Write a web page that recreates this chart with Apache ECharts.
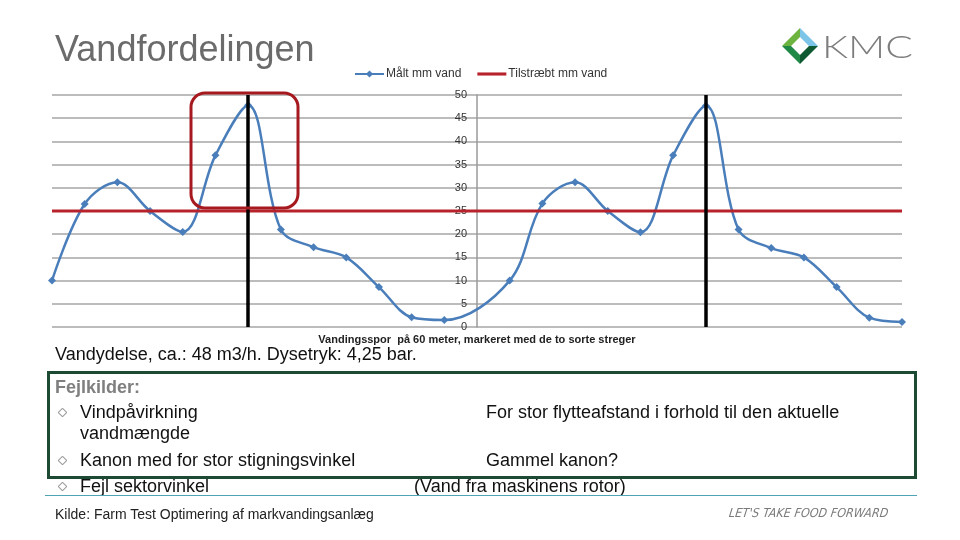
<!DOCTYPE html>
<html>
<head>
<meta charset="utf-8">
<script src="https://cdn.jsdelivr.net/npm/echarts@6/dist/echarts.min.js"></script>
<style>
  html, body { margin: 0; padding: 0; background: #fff; }
  #wrap { position: relative; width: 960px; height: 540px; overflow: hidden; font-family: "Liberation Sans", Arial, sans-serif; }
  #chart { position: absolute; left: 0; top: 0; width: 960px; height: 540px; }
  .t { position: absolute; white-space: nowrap; line-height: 1; }
  .bul { position: absolute; width: 5px; height: 5px; border: 1.5px solid #9a9a9a; transform: rotate(45deg); border-radius: 1px; }
</style>
</head>
<body>
<div id="wrap">
  <div id="chart"></div>
  <div class="t" style="left:55px; top:31px; font-size:36px; color:#6b6b6b;">Vandfordelingen</div>
  <div class="t" style="left:55px; top:345px; font-size:18px; color:#111;">Vandydelse, ca.: 48 m3/h. Dysetryk: 4,25 bar.</div>
  <div style="position:absolute; left:47px; top:371px; width:864px; height:102px; border:3.5px solid #1d4a33;"></div>
  <div class="t" style="left:55px; top:378px; font-size:18px; font-weight:bold; color:#7f7f7f;">Fejlkilder:</div>
  <div class="bul" style="left:59px; top:409px;"></div>
  <div class="t" style="left:80px; top:403px; font-size:18px; color:#111;">Vindpåvirkning</div>
  <div class="t" style="left:80px; top:424px; font-size:18px; color:#111;">vandmængde</div>
  <div class="bul" style="left:59px; top:457px;"></div>
  <div class="t" style="left:80px; top:451px; font-size:18px; color:#111;">Kanon med for stor stigningsvinkel</div>
  <div class="bul" style="left:59px; top:483px;"></div>
  <div class="t" style="left:80px; top:477px; font-size:18px; color:#111;">Fejl sektorvinkel</div>
  <div class="t" style="left:486px; top:403px; font-size:18px; color:#111;">For stor flytteafstand i forhold til den aktuelle</div>
  <div class="t" style="left:486px; top:451px; font-size:18px; color:#111;">Gammel kanon?</div>
  <div class="t" style="left:414px; top:477px; font-size:18px; color:#111;">(Vand fra maskinens rotor)</div>
  <div style="position:absolute; left:45px; top:495px; width:872px; height:0; border-top:1.5px solid #4fa3b3;"></div>
  <div class="t" style="left:55px; top:507px; font-size:14px; color:#222;">Kilde: Farm Test Optimering af markvandingsanlæg</div>
  <div class="t" style="left:729px; top:507px; font-size:12.3px; color:#7a7a7a; font-style:italic; font-family:'DejaVu Sans Condensed','DejaVu Sans',sans-serif; letter-spacing:0.1px; transform:skewX(-8deg);">LET'S TAKE FOOD FORWARD</div>
  <svg style="position:absolute; left:780px; top:26px;" width="40" height="40" viewBox="0 0 40 40">
    <polygon points="20,2 20,11 11,20 2,20" fill="#6cb33f"/>
    <polygon points="20,2 38,20 29,20 20,11" fill="#7cc4e8"/>
    <polygon points="2,20 11,20 20,29 20,38" fill="#1e8a45"/>
    <polygon points="38,20 20,38 20,29 29,20" fill="#0f5a33"/>
  </svg>
  <div class="t" style="left:822px; top:30px; font-size:32px; color:#7d7d7d; font-family:'Lato','Liberation Sans',sans-serif; font-weight:300; transform:scaleX(1.28); transform-origin:left top;">KMC</div>
</div>
<script>
// x positions along the watering track (one step per measurement)
const positions = [-13,-12,-11,-10,-9,-8,-7,-6,-5,-4,-3,-2,-1,1,2,3,4,5,6,7,8,9,10,11,12,13];
// "Målt mm vand"
const measured = [10,26.5,31.2,25,20.5,37,47.8,21,17.2,15,8.6,2.1,1.5,10,26.6,31.2,25,20.4,37,47.7,21,17,15,8.6,2,1.1];
// "Tilstræbt mm vand"
const targetValue = 25;
const targetPositions = [-13, 13];
// black marker lines (sprinkler track ends)
const trackLines = [-7, 7];
const yTicks = [0,5,10,15,20,25,30,35,40,45,50];

const gridLeft = 52, gridRight = 58;
const gridWidth = 960 - gridLeft - gridRight;
const xMin = positions[0], xMax = positions[positions.length - 1];
// place the value axis at x = 0 (middle of the track)
const yAxisOffset = -gridWidth * (0 - xMin) / (xMax - xMin);

const chart = echarts.init(document.getElementById('chart'), null, {renderer: 'canvas'});
const option = {
  animation: false,
  backgroundColor: '#fff',
  legend: {
    left: 349, top: 63,
    itemWidth: 29, itemHeight: 9, itemGap: 16,
    textStyle: {fontSize: 12, color: '#333', fontFamily: 'Liberation Sans', padding: [0, 0, 0, -3]},
    data: [
      {name: 'Målt mm vand'},
      {name: 'Tilstræbt mm vand', icon: 'path://M0,0 L30,0 L30,3.2 L0,3.2 Z', itemStyle: {color: '#b8232b'}}
    ]
  },
  grid: {left: gridLeft, right: gridRight, top: 95, bottom: 213},
  xAxis: {
    type: 'value', min: xMin, max: xMax,
    axisLine: {show: false}, axisTick: {show: false}, axisLabel: {show: false},
    splitLine: {show: false},
    name: 'Vandingsspor  på 60 meter, markeret med de to sorte streger',
    nameLocation: 'middle', nameGap: 7,
    nameTextStyle: {fontSize: 11, fontWeight: 'bold', color: '#222', fontFamily: 'Liberation Sans'}
  },
  yAxis: {
    type: 'value', position: 'left', offset: yAxisOffset,
    min: yTicks[0], max: yTicks[yTicks.length - 1], interval: yTicks[1] - yTicks[0],
    axisLine: {show: true, onZero: false, lineStyle: {color: '#9a9a9a', width: 1.5}},
    axisTick: {show: false},
    axisLabel: {fontSize: 11, color: '#333', margin: 10, fontFamily: 'Liberation Sans'},
    splitLine: {show: true, lineStyle: {color: '#a6a6a6', width: 1.5}}
  },
  series: [
    {
      name: 'Målt mm vand', type: 'line', smooth: 0.35,
      data: positions.map((p, i) => [p, measured[i]]),
      symbol: 'diamond', symbolSize: 8,
      lineStyle: {color: '#4a7ebb', width: 2.5},
      itemStyle: {color: '#4a7ebb'},
      z: 3
    },
    {
      name: 'Tilstræbt mm vand', type: 'line',
      data: targetPositions.map(p => [p, targetValue]),
      symbol: 'none',
      lineStyle: {color: '#b8232b', width: 3},
      itemStyle: {color: '#b8232b'},
      z: 4,
      markLine: {
        silent: true, symbol: 'none', label: {show: false},
        lineStyle: {color: '#000', width: 3.5, type: 'solid'},
        data: trackLines.map(x => ({xAxis: x}))
      }
    }
  ],
  graphic: [
    {type: 'rect', z: 100, shape: {x: 191, y: 93, width: 107, height: 115, r: 14},
     style: {fill: 'none', stroke: '#a5191f', lineWidth: 3}}
  ]
};
chart.setOption(option);
</script>
</body>
</html>
